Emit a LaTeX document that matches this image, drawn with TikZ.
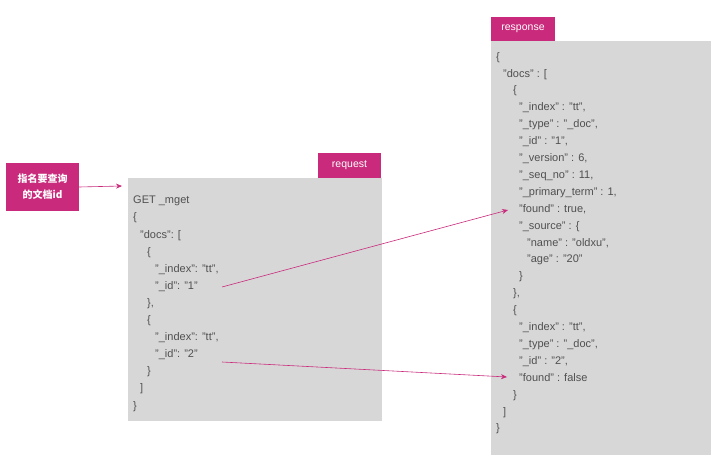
\documentclass[tikz,border=0pt]{standalone}
\usepackage{fontspec}
\usetikzlibrary{arrows.meta}
\setmainfont{Liberation Sans}
\newfontfamily\cjk{Noto Sans CJK SC}
\definecolor{mag}{HTML}{C92A7B}
\definecolor{boxg}{HTML}{D8D7D8}
\definecolor{txt}{HTML}{505050}
\newcommand{\ii}[1]{\hspace*{#1}}
\begin{document}
\begin{tikzpicture}[x=1pt,y=-1pt,
  tab/.style={fill=mag,text=white,font=\fontsize{10.5}{12}\selectfont,inner sep=0pt},
  code/.style={anchor=north west,align=left,text=txt,inner sep=0pt,font=\fontsize{11}{17.1}\selectfont},
  conn/.style={draw=mag,line width=0.6pt,-{Stealth[length=6pt,width=5pt]}}]
\useasboundingbox (0,0) rectangle (723,470);
\fill[white] (0,0) rectangle (723,470);
% callout
\node[fill=mag,minimum width=73pt,minimum height=48pt,text=white,align=center,inner sep=0pt,font=\cjk\bfseries\fontsize{10}{16}\selectfont] (call) at (42.5,187) {指名要查询\\的文档id};
% request
\fill[boxg] (128,178) rectangle (382,421);
\node[tab,minimum width=63pt,minimum height=25pt] (reqtab) at (349.5,165.5) {request};
\node[code] (req) at (133,196) {GET \_mget\\{\{}\\\ii{7pt}"docs": [\\\ii{14pt}\{\\\ii{22pt}"\_index": "tt",\\\ii{22pt}"\_id": "1"\\\ii{14pt}\},\\\ii{14pt}\{\\\ii{22pt}"\_index": "tt",\\\ii{22pt}"\_id": "2"\\\ii{14pt}\}\\\ii{7pt}]\\\}};
\coordinate (reqleft) at (122,186);
% response
\fill[boxg] (491,41) rectangle (711,455);
\node[tab,minimum width=64pt,minimum height=24pt] (restab) at (523,29) {response};
\node[code,font=\fontsize{11}{16.9}\selectfont] (res) at (496,52) {\{\\\ii{7pt}"docs" : [\\\ii{17pt}\{\\\ii{23pt}"\_index" : "tt",\\\ii{23pt}"\_type" : "\_doc",\\\ii{23pt}"\_id" : "1",\\\ii{23pt}"\_version" : 6,\\\ii{23pt}"\_seq\_no" : 11,\\\ii{23pt}"\_primary\_term" : 1,\\\ii{23pt}"found" : true,\\\ii{23pt}"\_source" : \{\\\ii{31pt}"name" : "oldxu",\\\ii{31pt}"age" : "20"\\\ii{23pt}\}\\\ii{17pt}\},\\\ii{17pt}\{\\\ii{23pt}"\_index" : "tt",\\\ii{23pt}"\_type" : "\_doc",\\\ii{23pt}"\_id" : "2",\\\ii{23pt}"found" : false\\\ii{17pt}\}\\\ii{7pt}]\\\}};
\coordinate (id1) at (222,287);
\coordinate (id2) at (222,362);
\coordinate (f1) at (508,210);
\coordinate (f2) at (507,377);
\draw[conn] (call.east) -- (reqleft);
\draw[conn] (id1) -- (f1);
\draw[conn] (id2) -- (f2);
\end{tikzpicture}
\end{document}
